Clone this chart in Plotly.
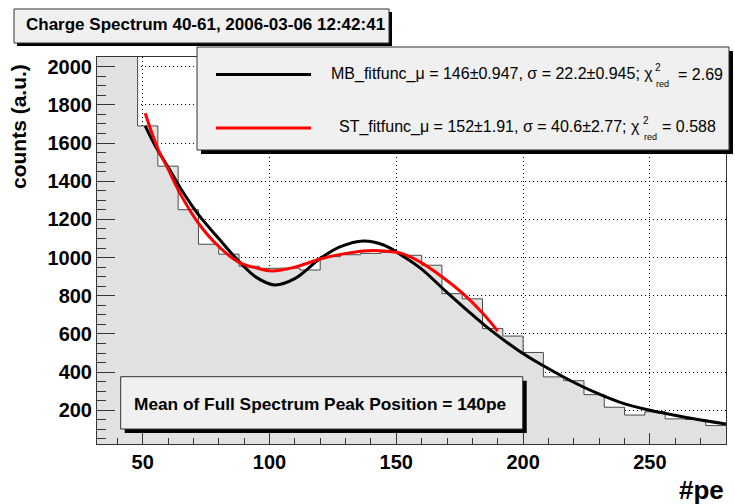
import plotly.graph_objects as go

# ---------------- data ----------------
bin_edges = [32 + 8 * i for i in range(32)]  # 32 .. 280, width 8
bin_counts = [2300, 2300, 1690, 1479, 1251, 1070, 1018, 955, 944, 945, 935, 1005,
              1015, 1022, 1028, 1012, 960, 811, 784, 628, 589, 503, 375, 355,
              282, 216, 175, 192, 155, 152, 120]

mb_x = [51, 55, 60, 65, 72, 80, 88, 95, 102, 110, 120, 128, 137, 145, 153, 160,
        169, 179, 188, 198, 208, 218, 228, 238, 250, 265, 280]
mb_y = [1690, 1585, 1475, 1362, 1225, 1100, 980, 895, 857, 890, 995, 1057, 1087,
        1066, 1005, 940, 830, 712, 612, 515, 433, 360, 296, 243, 200, 161, 128]

st_x = [51, 56, 60, 65, 72, 80, 88, 95, 101, 110, 120, 128, 137, 145, 152, 159,
        168, 176, 184, 190]
st_y = [1756, 1570, 1465, 1330, 1180, 1058, 975, 945, 930, 950, 993, 1017, 1035,
        1035, 1022, 980, 900, 815, 710, 615]

x_ticks = [50, 100, 150, 200, 250]
y_ticks = [200, 400, 600, 800, 1000, 1200, 1400, 1600, 1800, 2000]

title_text = "Charge Spectrum 40-61, 2006-03-06 12:42:41"
mb_label = "MB_fitfunc_\u03bc = 146\u00b10.947, \u03c3 = 22.2\u00b10.945; \u03c7"
mb_chi = "= 2.69"
st_label = "ST_fitfunc_\u03bc = 152\u00b11.91, \u03c3 = 40.6\u00b12.77; \u03c7"
st_chi = "= 0.588"
mean_text = "Mean of Full Spectrum Peak Position = 140pe"

# ---------------- geometry helpers ----------------
W, H = 735, 504
L, R, T, B = 97, 726, 57, 444


def px(x):
    return (x - L) / (R - L)


def py(y):
    return (B - y) / (B - T)


FONT = "Liberation Sans, Arial, Helvetica, sans-serif"

fig = go.Figure()

# histogram as step outline with fill
hx = bin_edges
hy = bin_counts + [bin_counts[-1]]
fig.add_trace(go.Scatter(x=hx, y=hy, mode="lines", line=dict(shape="hv", color="#4a4a4a", width=1),
                         fill="tozeroy", fillcolor="#e1e1e1", showlegend=False, hoverinfo="skip"))

fig.add_trace(go.Scatter(x=mb_x, y=mb_y, mode="lines",
                         line=dict(shape="spline", smoothing=1.0, color="black", width=3),
                         showlegend=False))
fig.add_trace(go.Scatter(x=st_x, y=st_y, mode="lines",
                         line=dict(shape="spline", smoothing=1.0, color="#ff0000", width=3),
                         showlegend=False))

axis_common = dict(
    showline=True, linecolor="#333333", linewidth=1, mirror=True,
    ticks="inside", tickcolor="#333333", tickwidth=1,
    showgrid=True, gridcolor="#000000", gridwidth=1, griddash="1px,3px",
    zeroline=False,
    tickfont=dict(family=FONT, size=20, color="black", weight="bold"),
)

fig.update_xaxes(range=[32, 280], tickvals=x_ticks, ticklen=11,
                 minor=dict(dtick=10, tick0=0, ticks="inside", ticklen=6, tickcolor="#333333", showgrid=False),
                 **axis_common)
fig.update_yaxes(range=[23.4, 2051], tickvals=y_ticks, ticklen=18,
                 minor=dict(dtick=50, tick0=0, ticks="inside", ticklen=9, tickcolor="#333333", showgrid=False),
                 **axis_common)

shapes = []
annotations = []


def box(x0, y0, x1, y1, shadow=4):
    shapes.append(dict(type="rect", xref="paper", yref="paper",
                       x0=px(x0 + shadow), x1=px(x1 + shadow), y0=py(y1 + shadow), y1=py(y0 + shadow),
                       fillcolor="black", line=dict(width=0)))
    shapes.append(dict(type="rect", xref="paper", yref="paper",
                       x0=px(x0), x1=px(x1), y0=py(y1), y1=py(y0),
                       fillcolor="#f0f0f0", line=dict(color="#333333", width=1)))


def text(x, y, s, size, xanchor="left", bold=False, angle=0):
    annotations.append(dict(xref="paper", yref="paper", x=px(x), y=py(y), text=s,
                            showarrow=False, xanchor=xanchor, yanchor="middle", textangle=angle,
                            font=dict(family=FONT, size=size, color="black",
                                      weight="bold" if bold else "normal")))


# title box
box(14, 9, 389, 43, shadow=3)
text(205, 25, title_text, 17, xanchor="center", bold=True)

# legend box
box(197, 47, 729, 150, shadow=4)
shapes.append(dict(type="line", xref="paper", yref="paper", x0=px(216), x1=px(311), y0=py(74.5), y1=py(74.5),
                   line=dict(color="black", width=3)))
shapes.append(dict(type="line", xref="paper", yref="paper", x0=px(216), x1=px(311), y0=py(128), y1=py(128),
                   line=dict(color="#ff0000", width=3)))
text(654.5, 74, mb_label, 16, xanchor="right")
text(653, 67.5, "2", 10)
text(653.5, 84, "red", 9)
text(676, 74, mb_chi, 16)
text(642.3, 127, st_label, 16, xanchor="right")
text(641, 120.5, "2", 10)
text(641.5, 137, "red", 9)
text(660, 127, st_chi, 16)

# mean box
box(120.7, 376.7, 522.7, 429, shadow=4)
text(320, 403.5, mean_text, 17.3, xanchor="center", bold=True)

# axis titles
text(19, 127, "counts (a.u.)", 21, xanchor="center", bold=True, angle=-90)
text(726, 490, "#pe", 26, xanchor="right", bold=True)

fig.update_layout(
    width=W, height=H,
    margin=dict(l=L, r=W - R, t=T, b=H - B, pad=0),
    paper_bgcolor="white", plot_bgcolor="white",
    showlegend=False,
    shapes=shapes, annotations=annotations,
)

fig.write_html("out.html")
